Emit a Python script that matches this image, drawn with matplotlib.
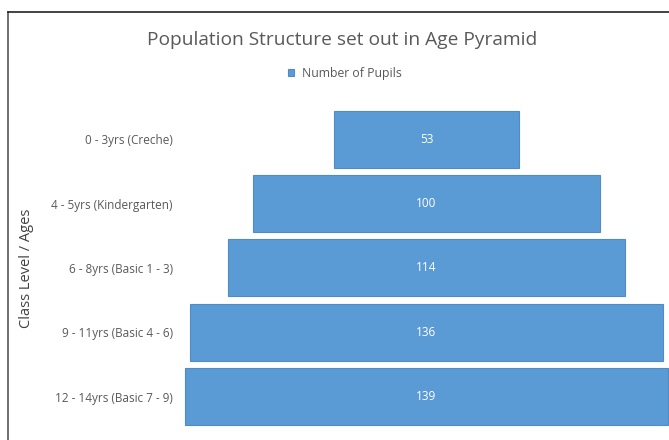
import matplotlib
matplotlib.use('Agg')
import matplotlib.pyplot as plt
import numpy as np

plt.rcParams['font.family'] = ['Open Sans', 'DejaVu Sans']

# age groups, top to bottom
groups = ['0 - 3yrs (Creche)', '4 - 5yrs (Kindergarten)', '6 - 8yrs (Basic 1 - 3)',
          '9 - 11yrs (Basic 4 - 6)', '12 - 14yrs (Basic 7 - 9)']
pupils = [53, 100, 114, 136, 139]

fig = plt.figure(figsize=(6.69, 4.4), dpi=100)
ax = fig.add_axes([184/669, 0.025, 1 - 184/669, 0.732])

y = np.arange(len(groups))
vals = np.array(pupils)
bars = ax.barh(y, vals, left=-vals/2, height=0.885, color='#5b9bd5',
               edgecolor='#4f8cc6', linewidth=0.8, label='Number of Pupils')
for yi, v in zip(y, vals):
    ax.text(0, yi, str(v), ha='center', va='center', color='white', fontsize=8.5)

ax.set_xlim(-69.7, 69.7)
ax.set_ylim(len(groups) - 0.5, -0.5)
ax.set_xticks([])
ax.set_yticks(y)
ax.set_yticklabels(groups, fontsize=8.5, color='#595959')
ax.tick_params(axis='y', length=0, pad=8)
for s in ax.spines.values():
    s.set_visible(False)

ax.set_ylabel('Class Level / Ages', fontsize=10.5, color='#404040')
ax.yaxis.set_label_coords(-0.31, 0.5)

fig.text(0.512, 0.91, 'Population Structure set out in Age Pyramid', ha='center',
         va='center', fontsize=13.8, color='#595959')
fig.legend(handles=[bars], loc='center', bbox_to_anchor=(0.515, 0.834), frameon=False,
           fontsize=8.8, handlelength=0.55, handleheight=0.55, handletextpad=0.6,
           labelcolor='#595959')

# frame of the chart area (left and top edges visible)
fig.add_artist(plt.Line2D([8/669, 8/669], [0, 1 - 12/440], color='#555555', lw=1.2,
                          transform=fig.transFigure))
fig.add_artist(plt.Line2D([8/669, 1], [1 - 12/440, 1 - 12/440], color='#222222', lw=1.2,
                          transform=fig.transFigure))

fig.savefig('out.png', dpi=100)
